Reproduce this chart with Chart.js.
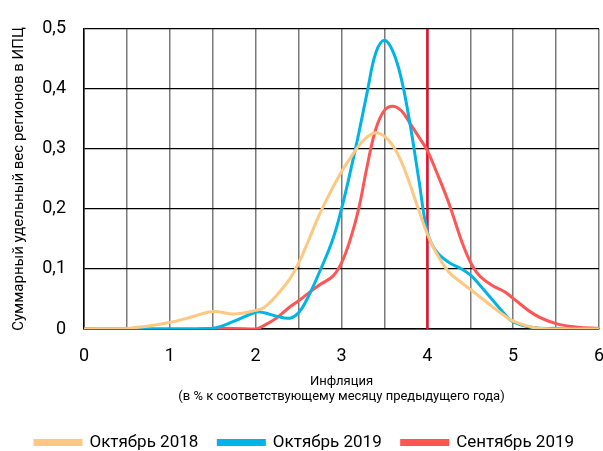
<!DOCTYPE html>
<html>
<head>
<meta charset="utf-8">
<script src="https://cdn.jsdelivr.net/npm/chart.js@4/dist/chart.umd.min.js"></script>
<style>
  html, body { margin: 0; padding: 0; background: #fff; }
  #wrap { width: 603px; height: 451px; }
</style>
</head>
<body>
<div id="wrap"><canvas id="chart"></canvas></div>
<script>
const xs = [0, 0.5, 1, 1.25, 1.5, 1.75, 2, 2.1, 2.25, 2.4, 2.5, 2.6, 2.75, 2.9, 3, 3.1, 3.2, 3.3, 3.4, 3.5,
  3.6, 3.7, 3.8, 3.9, 4, 4.1, 4.25, 4.4, 4.5, 4.6, 4.75, 4.9, 5, 5.25, 5.5, 5.75, 6];

const oct2018 = [0, 0.001, 0.011, 0.02, 0.029, 0.025, 0.031, 0.036, 0.057, 0.084, 0.11, 0.142, 0.193, 0.236, 0.262, 0.284, 0.305, 0.32, 0.327, 0.321,
  0.305, 0.278, 0.24, 0.198, 0.158, 0.128, 0.095, 0.077, 0.066, 0.055, 0.038, 0.022, 0.013, 0.002, 0, 0, 0];

const oct2019 = [0, 0, 0, 0, 0.001, 0.013, 0.028, 0.027, 0.021, 0.018, 0.027, 0.05, 0.097, 0.15, 0.2, 0.26, 0.325, 0.395, 0.46, 0.481,
  0.462, 0.415, 0.34, 0.25, 0.162, 0.13, 0.111, 0.1, 0.09, 0.075, 0.05, 0.025, 0.012, 0.002, 0.001, 0, 0];

const sep2019 = [0, 0, 0, 0, 0.001, 0.001, 0, 0.006, 0.019, 0.037, 0.047, 0.058, 0.074, 0.088, 0.11, 0.148, 0.2, 0.272, 0.333, 0.364,
  0.371, 0.363, 0.342, 0.32, 0.297, 0.264, 0.21, 0.146, 0.112, 0.09, 0.073, 0.062, 0.051, 0.024, 0.009, 0.003, 0.001];

const seriesNames = ['Октябрь 2018', 'Октябрь 2019', 'Сентябрь 2019'];
const targetX = 4;
const yTitle = 'Суммарный удельный вес регионов в ИПЦ';
const xTitle = ['Инфляция', '(в % к соответствующему месяцу предыдущего года)'];

const FONT = 'Roboto, "DejaVu Sans", sans-serif';

function pts(ys) { return xs.map((x, i) => ({ x, y: ys[i] })); }

function line(label, ys, color) {
  return {
    label, data: pts(ys), borderColor: color, backgroundColor: color,
    borderWidth: 3, pointRadius: 0, tension: 0.4, order: 1
  };
}

new Chart(document.getElementById('chart'), {
  type: 'line',
  data: {
    datasets: [
      line(seriesNames[0], oct2018, '#FFC880'),
      line(seriesNames[1], oct2019, '#00B4E6'),
      line(seriesNames[2], sep2019, '#FF5555'),
      {
        label: 'target', data: [{ x: targetX, y: 0 }, { x: targetX, y: 0.5 }],
        borderColor: '#E8102E', borderWidth: 2.5, pointRadius: 0, tension: 0, order: 5
      }
    ]
  },
  options: {
    responsive: true,
    maintainAspectRatio: false,
    animation: false,
    layout: { padding: { left: 10, right: 4, top: 14, bottom: -10 } },
    plugins: {
      tooltip: { enabled: false },
      legend: {
        position: 'bottom',
        labels: {
          filter: item => item.text !== 'target',
          boxWidth: 46, boxHeight: 4, padding: 20,
          color: '#000', font: { family: FONT, size: 17 }
        }
      }
    },
    scales: {
      x: {
        type: 'linear', min: 0, max: 6,
        afterFit: s => { s.height = 85; s.paddingLeft = 0; s.paddingRight = 0; },
        ticks: {
          stepSize: 0.5, autoSkip: false, maxRotation: 0,
          color: '#000', font: { family: FONT, size: 18 }, padding: 17,
          callback: v => Number.isInteger(v) ? String(v) : ''
        },
        grid: { color: '#7a7a7a', lineWidth: 1.5, drawTicks: false },
        border: { color: '#000', width: 1.5 },
        title: {
          display: true, text: xTitle, color: '#000',
          font: { family: FONT, size: 13, lineHeight: 1.2 }, padding: { top: 2, bottom: 9 }
        }
      },
      y: {
        min: 0, max: 0.5,
        afterFit: s => { s.width = 74; },
        ticks: {
          stepSize: 0.1, color: '#000', font: { family: FONT, size: 18 }, padding: 18,
          callback: v => String(Math.round(v * 10) / 10).replace('.', ',')
        },
        grid: { color: '#000', lineWidth: 1.2, drawTicks: false },
        border: { color: '#000', width: 1.5 },
        title: {
          display: true, text: yTitle, color: '#000',
          font: { family: FONT, size: 15 }, padding: 0
        }
      }
    }
  }
});
</script>
</body>
</html>
